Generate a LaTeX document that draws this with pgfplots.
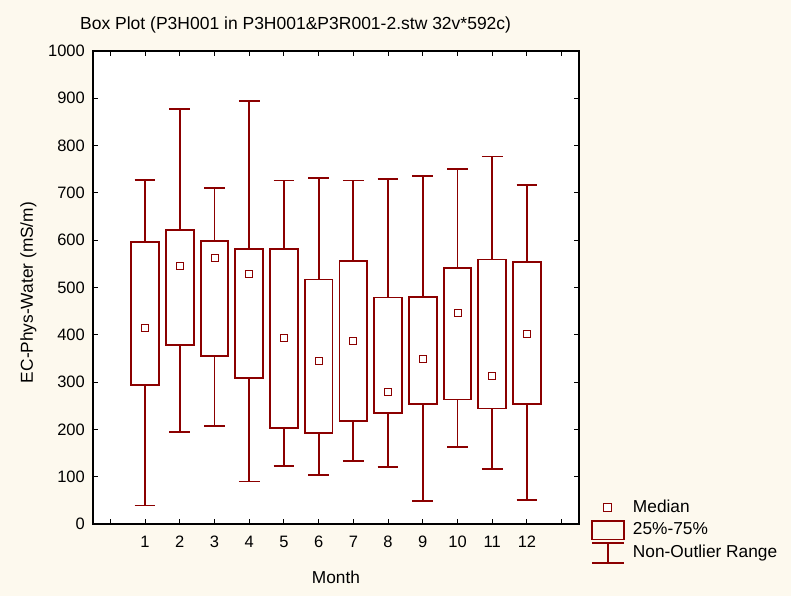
\documentclass[border=0pt]{standalone}
\usepackage{fontspec}
\setmainfont{Liberation Sans}
\usepackage{pgfplots}
\pgfplotsset{compat=1.18}
\definecolor{bgcol}{RGB}{253,249,238}
\definecolor{boxcol}{RGB}{139,0,0}
\pgfplotsset{
  boxst/.style={boxcol, line width=1.8pt, fill=white, line join=miter, forget plot},
  whst/.style={boxcol, line width=1.8pt, unbounded coords=jump, forget plot},
}
\begin{document}
\begin{tikzpicture}
\useasboundingbox (0,0) rectangle (791pt,596pt);
\fill[bgcol] (0,0) rectangle (791pt,596pt);
\begin{axis}[
  at={(93pt,72pt)}, anchor=south west,
  width=486pt, height=473pt, scale only axis,
  axis background/.style={fill=white},
  xmin=-0.5, xmax=13.5, ymin=0, ymax=1000,
  xtick={0,1,2,3,4,5,6,7,8,9,10,11,12,13},
  xticklabels={{},1,2,3,4,5,6,7,8,9,10,11,12,{}},
  ytick={0,100,200,300,400,500,600,700,800,900,1000},
  /pgf/number format/assume math mode=true,
  /pgf/number format/1000 sep={},
  tick align=inside, tick pos=both,
  major tick length=5pt,
  major tick style={black, line width=1pt},
  axis line style={black, line width=1.8pt},
  tick label style={font=\fontsize{16.5}{19}\selectfont},
  yticklabel style={inner sep=0pt, xshift=-8pt},
  xticklabel style={inner sep=0pt, anchor=north, yshift=-12pt},
  title={Box Plot (P3H001 in P3H001\&P3R001-2.stw 32v*592c)},
  title style={at={(axis description cs:-0.0268,1.0328)}, anchor=base west, inner sep=0pt, font=\fontsize{17.5}{20}\selectfont},
  xlabel={Month},
  xlabel style={at={(axis description cs:0.5,0)}, anchor=base, yshift=-59.3pt, inner sep=0pt, font=\fontsize{17.3}{20}\selectfont},
  ylabel={EC-Phys-Water (mS/m)},
  ylabel style={at={(axis description cs:-0.1331,0.4894)}, anchor=center, inner sep=0pt, font=\fontsize{17.3}{20}\selectfont},
  legend style={at={(axis description cs:1.0267,0.0507)}, anchor=north west,
    draw=none, fill=none, inner sep=0pt, outer sep=0pt,
    row sep=6.8pt, column sep=9pt,
    font=\fontsize{17.3}{20}\selectfont,
    nodes={inner sep=0pt, text height=12pt, text depth=4pt}},
  legend cell align=left,
]
% whiskers: month, lower whisker, lower quartile, upper quartile, upper whisker
\addplot[whst] coordinates {
 (1,596) (1,727) (nan,nan) (0.7,727) (1.3,727) (nan,nan) (1,294) (1,39) (nan,nan) (0.7,39) (1.3,39) (nan,nan)
 (2,622) (2,877) (nan,nan) (1.7,877) (2.3,877) (nan,nan) (2,378) (2,194) (nan,nan) (1.7,194) (2.3,194) (nan,nan)
 (3,599) (3,710) (nan,nan) (2.7,710) (3.3,710) (nan,nan) (3,356) (3,207) (nan,nan) (2.7,207) (3.3,207) (nan,nan)
 (4,582) (4,894) (nan,nan) (3.7,894) (4.3,894) (nan,nan) (4,308) (4,90) (nan,nan) (3.7,90) (4.3,90) (nan,nan)
 (5,581) (5,726) (nan,nan) (4.7,726) (5.3,726) (nan,nan) (5,203) (5,122) (nan,nan) (4.7,122) (5.3,122) (nan,nan)
 (6,517) (6,732) (nan,nan) (5.7,732) (6.3,732) (nan,nan) (6,192) (6,103) (nan,nan) (5.7,103) (6.3,103) (nan,nan)
 (7,556) (7,726) (nan,nan) (6.7,726) (7.3,726) (nan,nan) (7,218) (7,133) (nan,nan) (6.7,133) (7.3,133) (nan,nan)
 (8,479) (8,730) (nan,nan) (7.7,730) (8.3,730) (nan,nan) (8,235) (8,120) (nan,nan) (7.7,120) (8.3,120) (nan,nan)
 (9,480) (9,735) (nan,nan) (8.7,735) (9.3,735) (nan,nan) (9,253) (9,48) (nan,nan) (8.7,48) (9.3,48) (nan,nan)
 (10,542) (10,751) (nan,nan) (9.7,751) (10.3,751) (nan,nan) (10,263) (10,163) (nan,nan) (9.7,163) (10.3,163) (nan,nan)
 (11,559) (11,777) (nan,nan) (10.7,777) (11.3,777) (nan,nan) (11,244) (11,116) (nan,nan) (10.7,116) (11.3,116) (nan,nan)
 (12,554) (12,717) (nan,nan) (11.7,717) (12.3,717) (nan,nan) (12,254) (12,51) (nan,nan) (11.7,51) (12.3,51)
};
% boxes: 25%-75%
\addplot[boxst] coordinates {(0.6,294) (1.4,294) (1.4,596) (0.6,596)} -- cycle;
\addplot[boxst] coordinates {(1.6,378) (2.4,378) (2.4,622) (1.6,622)} -- cycle;
\addplot[boxst] coordinates {(2.6,356) (3.4,356) (3.4,599) (2.6,599)} -- cycle;
\addplot[boxst] coordinates {(3.6,308) (4.4,308) (4.4,582) (3.6,582)} -- cycle;
\addplot[boxst] coordinates {(4.6,203) (5.4,203) (5.4,581) (4.6,581)} -- cycle;
\addplot[boxst] coordinates {(5.6,192) (6.4,192) (6.4,517) (5.6,517)} -- cycle;
\addplot[boxst] coordinates {(6.6,218) (7.4,218) (7.4,556) (6.6,556)} -- cycle;
\addplot[boxst] coordinates {(7.6,235) (8.4,235) (8.4,479) (7.6,479)} -- cycle;
\addplot[boxst] coordinates {(8.6,253) (9.4,253) (9.4,480) (8.6,480)} -- cycle;
\addplot[boxst] coordinates {(9.6,263) (10.4,263) (10.4,542) (9.6,542)} -- cycle;
\addplot[boxst] coordinates {(10.6,244) (11.4,244) (11.4,559) (10.6,559)} -- cycle;
\addplot[boxst] coordinates {(11.6,254) (12.4,254) (12.4,554) (11.6,554)} -- cycle;
% medians
\addplot[only marks, mark=square*, mark size=3.5pt, boxcol, fill=white, line width=1pt, forget plot]
  coordinates {(1,414) (2,546) (3,563) (4,529) (5,394) (6,345) (7,386) (8,279) (9,349) (10,447) (11,312) (12,402)};
\addlegendimage{legend image code/.code={%
  \path[draw=none, fill=none] (0pt,0pt) rectangle (32pt,1pt);
  \draw[overlay, boxcol, line width=1pt, fill=white] (12pt,-3.3pt) rectangle (20pt,4.7pt);}}
\addlegendentry{Median}
\addlegendimage{legend image code/.code={%
  \path[draw=none, fill=none] (0pt,0pt) rectangle (32pt,1pt);
  \draw[overlay, boxcol, line width=1.6pt, fill=none] (0pt,-8.6pt) rectangle (32pt,10pt);}}
\addlegendentry{25\%-75\%}
\addlegendimage{legend image code/.code={%
  \path[draw=none, fill=none] (0pt,0pt) rectangle (32pt,1pt);
  \draw[overlay, boxcol, line width=1.6pt] (0pt,10.5pt) -- (32pt,10.5pt) (16pt,10.5pt) -- (16pt,-9.1pt) (0pt,-9.1pt) -- (32pt,-9.1pt);}}
\addlegendentry{Non-Outlier Range}
\end{axis}
\end{tikzpicture}
\end{document}
